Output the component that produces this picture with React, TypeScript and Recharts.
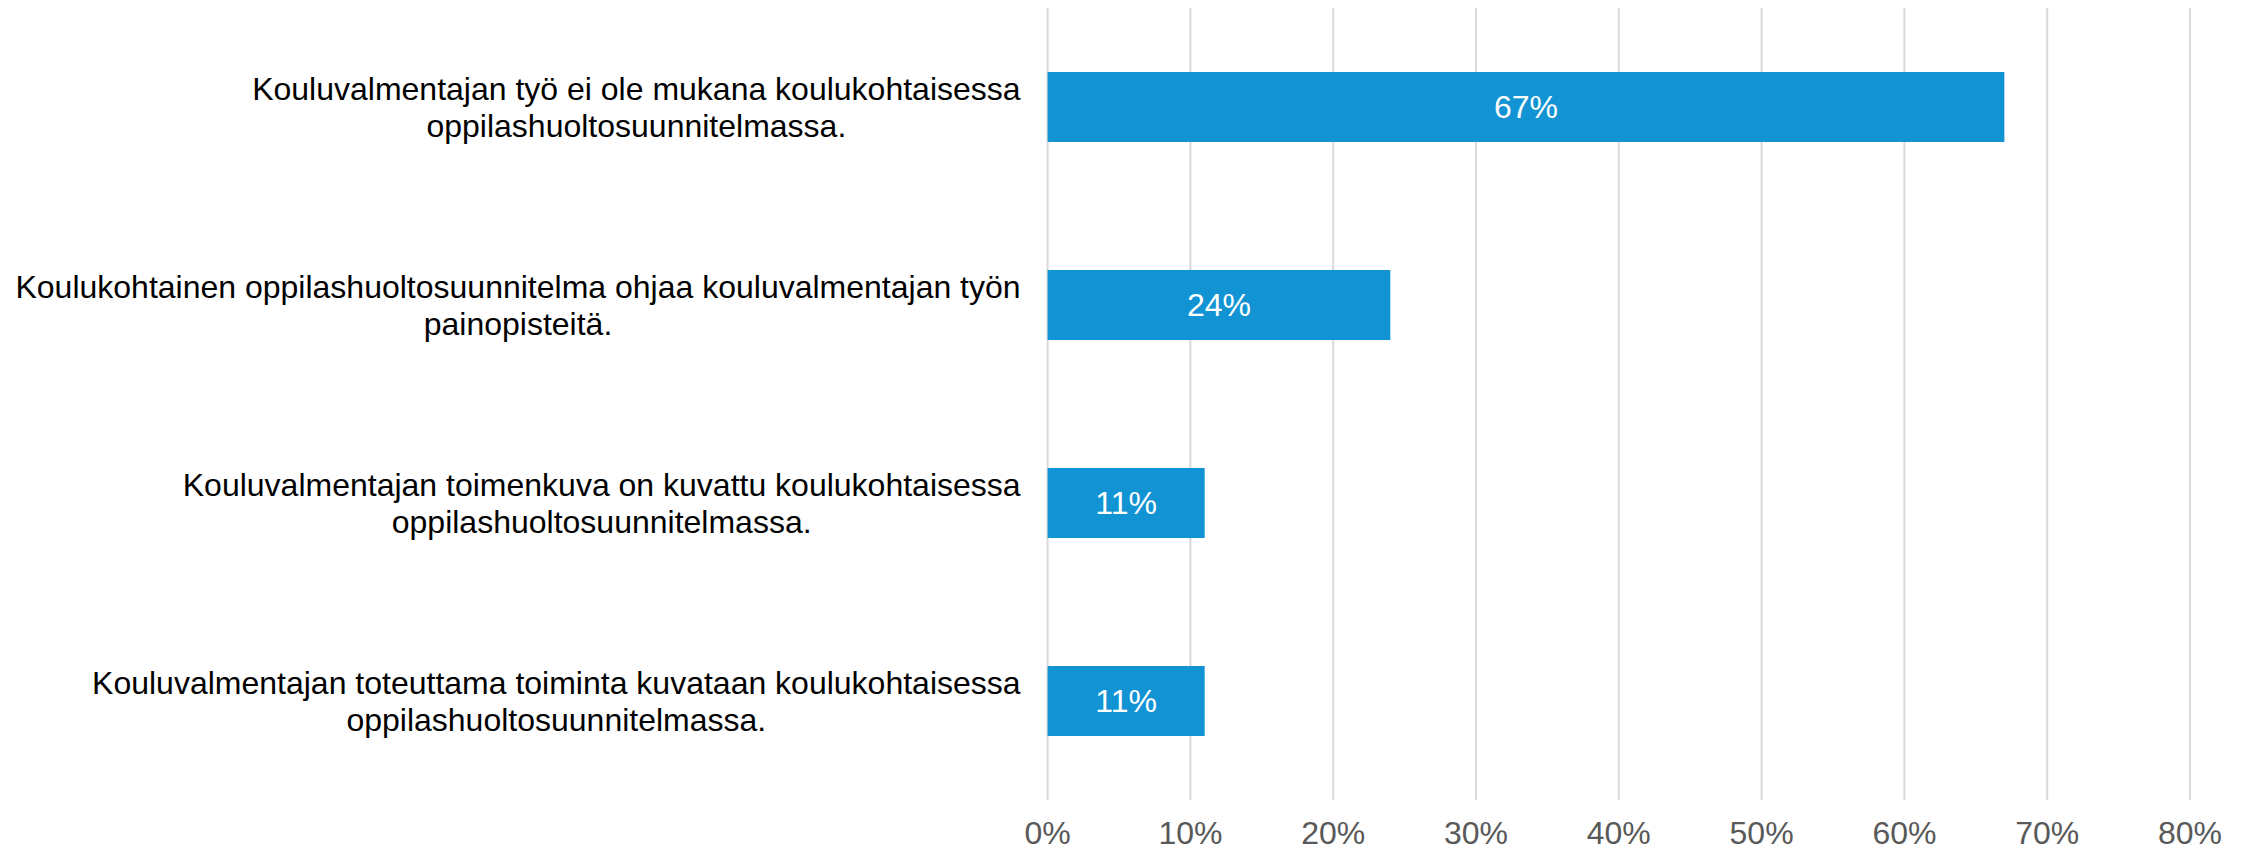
import React from "react";
import { BarChart, Bar, XAxis, YAxis, CartesianGrid, LabelList } from "recharts";

const categories: string[] = [
  "Kouluvalmentajan työ ei ole mukana koulukohtaisessa\noppilashuoltosuunnitelmassa.",
  "Koulukohtainen oppilashuoltosuunnitelma ohjaa kouluvalmentajan työn\npainopisteitä.",
  "Kouluvalmentajan toimenkuva on kuvattu koulukohtaisessa\noppilashuoltosuunnitelmassa.",
  "Kouluvalmentajan toteuttama toiminta kuvataan koulukohtaisessa\noppilashuoltosuunnitelmassa.",
];
const values: number[] = [0.67, 0.24, 0.11, 0.11];
const xTicks: number[] = [0, 0.1, 0.2, 0.3, 0.4, 0.5, 0.6, 0.7, 0.8];

const data = categories.map((name, i) => ({ name, value: values[i] }));

const FONT = "'Liberation Sans', Arial, sans-serif";
const FS = 32;

let ctx: CanvasRenderingContext2D | null = null;
function measure(t: string): number {
  if (!ctx) {
    const c = document.createElement("canvas");
    ctx = c.getContext("2d");
  }
  if (!ctx) return t.length * FS * 0.5;
  ctx.font = `${FS}px 'Liberation Sans', Arial, sans-serif`;
  return ctx.measureText(t).width;
}

const pct = (v: any) => `${Math.round(Number(v) * 100)}%`;

const CatTick = (props: any) => {
  const { x, y, payload } = props;
  const lines: string[] = String(payload.value).split("\n");
  const rightX = x - 19;
  const w1 = measure(lines[0]);
  const w2 = lines[1] ? measure(lines[1]) : 0;
  const blockW = Math.max(w1, w2);
  const cx = rightX - blockW / 2;
  const lh = 37;
  const n = lines.length;
  return (
    <g>
      {lines.map((ln, i) => (
        <text
          key={i}
          x={cx}
          y={y + (i - (n - 1) / 2) * lh + 11.5}
          textAnchor="middle"
          fill="#000000"
          fontSize={FS}
          fontFamily={FONT}
        >
          {ln}
        </text>
      ))}
    </g>
  );
};

export default function App() {
  return (
    <div style={{ position: "absolute", left: 0, top: 0, width: 2247, height: 852, background: "#fff" }}>
      <BarChart
        width={2247}
        height={852}
        data={data}
        layout="vertical"
        margin={{ top: 8, right: 57, bottom: 0, left: 0 }}
        barSize={70}
      >
        <CartesianGrid horizontal={false} vertical={true} stroke="#d9d9d9" strokeWidth={2} />
        <XAxis
          type="number"
          domain={[0, 0.8]}
          ticks={xTicks}
          tickFormatter={pct}
          axisLine={false}
          tickLine={false}
          height={52}
          tickMargin={15}
          interval={0}
          tick={{ fill: "#595959", fontSize: FS, fontFamily: FONT }}
        />
        <YAxis
          type="category"
          dataKey="name"
          width={1047.6}
          axisLine={false}
          tickLine={false}
          tick={<CatTick />}
          interval={0}
        />
        <Bar dataKey="value" fill="#1193d4" isAnimationActive={false}>
          <LabelList
            dataKey="value"
            position="center"
            formatter={pct}
            fill="#ffffff"
            fontSize={FS}
            fontFamily={FONT}
          />
        </Bar>
      </BarChart>
    </div>
  );
}
